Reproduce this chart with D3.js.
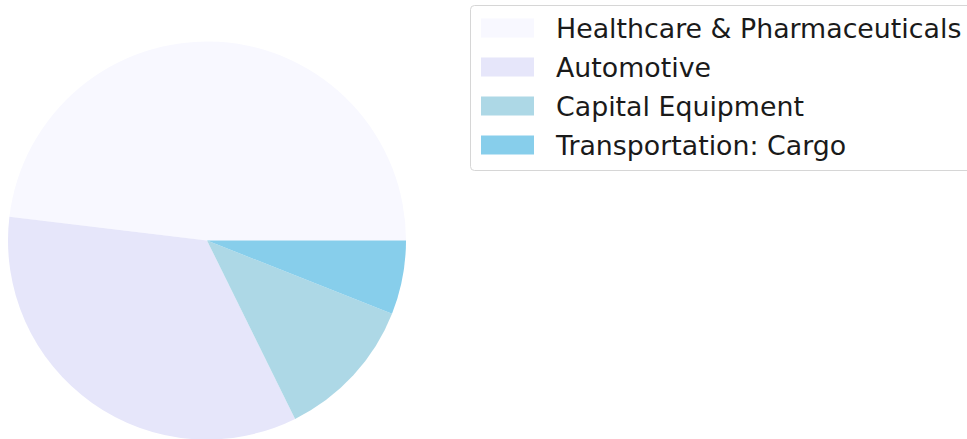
<!DOCTYPE html>
<head>
  <meta charset="utf-8">
  <script src="https://d3js.org/d3.v7.min.js"></script>
  <style>
    body { margin: 0; background: #fff; }
    svg { display: block; font-family: "DejaVu Sans", sans-serif; }
  </style>
</head>
<body>
  <div id="chart"></div>
  <script>
  var categories = ["Healthcare & Pharmaceuticals", "Automotive", "Capital Equipment", "Transportation: Cargo"];
  var values = [48.1, 34.2, 11.7, 6.0];
  var colors = ["#f8f8ff", "#e6e6fa", "#add8e6", "#87ceeb"];

  var width = 967, height = 439;
  var cx = 207, cy = 240.5, radius = 199;

  var svg = d3.select("#chart").append("svg")
      .attr("width", width)
      .attr("height", height);

  // matplotlib style: start at 3 o'clock, go counterclockwise
  var pie = d3.pie()
      .sort(null)
      .value(function(d) { return d; })
      .startAngle(Math.PI / 2)
      .endAngle(Math.PI / 2 - 2 * Math.PI);

  var arc = d3.arc().innerRadius(0).outerRadius(radius);

  svg.append("g")
      .attr("transform", "translate(" + cx + "," + cy + ")")
    .selectAll("path")
      .data(pie(values))
    .enter().append("path")
      .attr("d", arc)
      .style("fill", function(d, i) { return colors[i]; });

  // legend
  var legend = svg.append("g").attr("class", "legend");
  legend.append("rect")
      .attr("x", 470.5)
      .attr("y", 5.5)
      .attr("width", 520)
      .attr("height", 165)
      .attr("rx", 4)
      .style("fill", "#fff")
      .style("fill-opacity", 0.8)
      .style("stroke", "#d6d6d6");

  var rowY = d3.scalePoint().domain(categories).range([28, 145]);

  var rows = legend.selectAll(".row")
      .data(categories)
    .enter().append("g")
      .attr("class", "row")
      .attr("transform", function(d) { return "translate(0," + rowY(d) + ")"; });

  rows.append("rect")
      .attr("x", 481)
      .attr("y", -9.5)
      .attr("width", 53)
      .attr("height", 19)
      .style("fill", function(d, i) { return colors[i]; });

  rows.append("text")
      .attr("x", 556)
      .attr("y", 0)
      .attr("dy", "0.36em")
      .style("font-size", "26.8px")
      .style("fill", "#1a1a1a")
      .text(function(d) { return d; });
  </script>
</body>
